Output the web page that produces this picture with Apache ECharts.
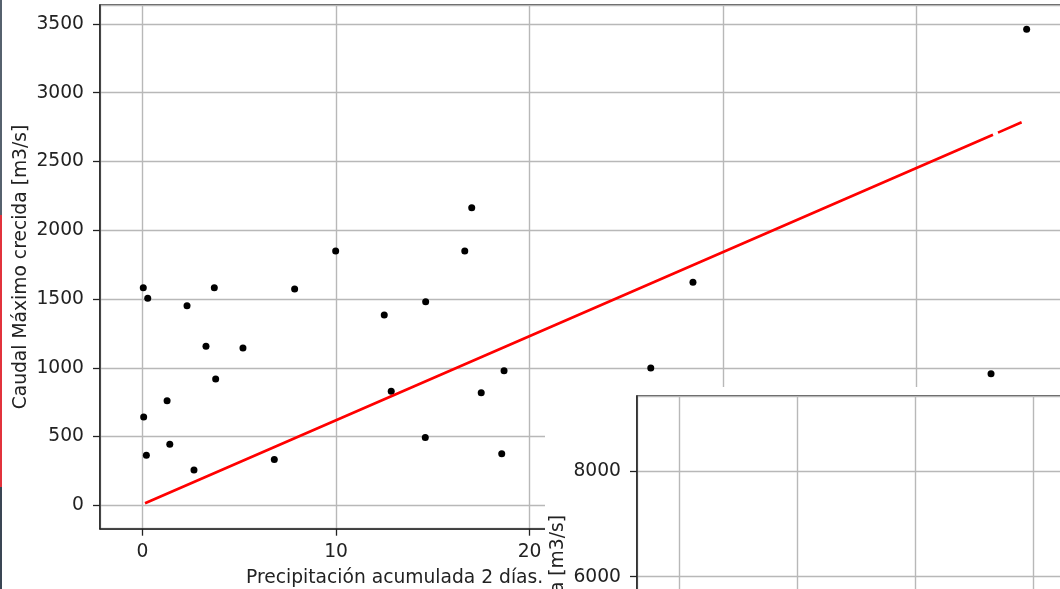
<!DOCTYPE html>
<html>
<head>
<meta charset="utf-8">
<script src="https://cdn.jsdelivr.net/npm/echarts@6/dist/echarts.min.js"></script>
<style>
  html, body { margin: 0; padding: 0; background: #fff; }
  #chart { width: 1060px; height: 589px; }
</style>
</head>
<body>
<div id="chart"></div>
<script>
// precipitacion acumulada (mm) vs caudal maximo (m3/s)
var precip = [0.04, 0.27, 3.71, 7.86, 9.98, 2.30, 3.28, 5.19, 3.78, 1.27, 0.06, 0.20, 1.41, 2.66,
              6.81, 17.01, 16.65, 14.63, 12.49, 18.68, 26.26, 12.85, 17.50, 14.61, 18.56, 28.44, 43.84, 45.68];
var caudal = [1582, 1505, 1582, 1573, 1849, 1451, 1156, 1144, 918, 761, 642, 364, 444, 257,
              334, 2164, 1849, 1481, 1384, 979, 998, 829, 819, 494, 375, 1622, 957, 3461];

// recta de ajuste (con el pequeño corte cerca del final)
var ajusteX = [0.13, 43.94, '-', 44.2, 45.42];
var ajusteY = [15, 2694, '-', 2710, 2785];

var font = 'DejaVu Sans';
var fsize = 18.7;
var txt = '#222';
var gridColor = '#b8b8b8';

var puntos = [];
for (var i = 0; i < precip.length; i++) {
    puntos.push([precip[i], caudal[i]]);
}
var recta = [];
for (var j = 0; j < ajusteX.length; j++) {
    recta.push([ajusteX[j], ajusteY[j]]);
}

var myChart = echarts.init(document.getElementById('chart'));

function axisCommon(extra) {
    var base = {
        type: 'value',
        axisLine: { show: true, onZero: false, lineStyle: { color: txt, width: 1.5 } },
        axisTick: { show: true, inside: false, length: 7, lineStyle: { color: txt, width: 1.3 } },
        axisLabel: {
            fontFamily: font, fontSize: fsize, color: txt, showMinLabel: false, showMaxLabel: false,
            formatter: function (v) { return String(v); }
        },
        splitLine: { show: true, lineStyle: { color: gridColor, width: 1.4 } }
    };
    for (var k in extra) {
        if (k === 'axisLabel') {
            for (var m in extra[k]) base.axisLabel[m] = extra[k][m];
        } else {
            base[k] = extra[k];
        }
    }
    return base;
}

var option = {
    animation: false,
    backgroundColor: '#fff',
    grid: [{
        left: 100, top: 5, width: 970, height: 523.7, outerBoundsMode: 'none', containLabel: false,
        show: true, borderColor: txt, borderWidth: 1.5, backgroundColor: 'transparent'
    }, {
        left: 637, top: 396, width: 500, height: 392.1, outerBoundsMode: 'none', containLabel: false,
        show: true, borderColor: txt, borderWidth: 1.5, backgroundColor: '#fff', zlevel: 2
    }],
    xAxis: [
        axisCommon({ gridIndex: 0, min: -2.196, max: 47.92, minInterval: 10, maxInterval: 10,
                     axisLabel: { margin: 14 } }),
        axisCommon({ gridIndex: 1, min: -3.556, max: 38.78, minInterval: 10, maxInterval: 10, zlevel: 2,
                     axisLabel: { show: false } })
    ],
    yAxis: [
        axisCommon({ gridIndex: 0, min: -170, max: 3638, minInterval: 500, maxInterval: 500,
                     axisLabel: { margin: 16 } }),
        axisCommon({ gridIndex: 1, min: 2000, max: 9419, interval: 2000, zlevel: 2,
                     axisLabel: { margin: 16, showMinLabel: true } })
    ],
    graphic: [
        { type: 'rect', zlevel: 0, shape: { x: 0, y: 0, width: 2, height: 215 }, style: { fill: '#56616e' } },
        { type: 'rect', zlevel: 0, shape: { x: 0, y: 215, width: 2, height: 272 }, style: { fill: '#e2323c' } },
        { type: 'rect', zlevel: 0, shape: { x: 0, y: 487, width: 2, height: 102 }, style: { fill: '#3a4654' } },
        {
            type: 'text', zlevel: 0, x: 21, y: 267, rotation: Math.PI / 2,
            style: { text: 'Caudal Máximo crecida [m3/s]', fontFamily: font, fontSize: fsize, fill: txt,
                     textAlign: 'center', textVerticalAlign: 'middle' }
        },
        {
            type: 'text', zlevel: 0, x: 246, y: 578,
            style: { text: 'Precipitación acumulada 2 días. [mm]', fontFamily: font, fontSize: fsize, fill: txt,
                     textAlign: 'left', textVerticalAlign: 'middle' }
        },
        // ventana de la segunda figura, encima de la primera
        { type: 'rect', zlevel: 1, shape: { x: 545, y: 387, width: 515, height: 202 }, style: { fill: '#fff' } },
        {
            type: 'text', zlevel: 2, x: 558, y: 515, rotation: Math.PI / 2,
            style: { text: 'Caudal Máximo crecida [m3/s]', fontFamily: font, fontSize: fsize, fill: txt,
                     textAlign: 'right', textVerticalAlign: 'middle' }
        }
    ],
    series: [{
        type: 'scatter',
        xAxisIndex: 0, yAxisIndex: 0,
        symbolSize: 7,
        itemStyle: { color: '#000', opacity: 1 },
        data: puntos
    }, {
        type: 'line',
        xAxisIndex: 0, yAxisIndex: 0,
        showSymbol: false,
        connectNulls: false,
        lineStyle: { color: '#ff0000', width: 2.7 },
        data: recta,
        z: 3
    }]
};
myChart.setOption(option);
</script>
</body>
</html>
